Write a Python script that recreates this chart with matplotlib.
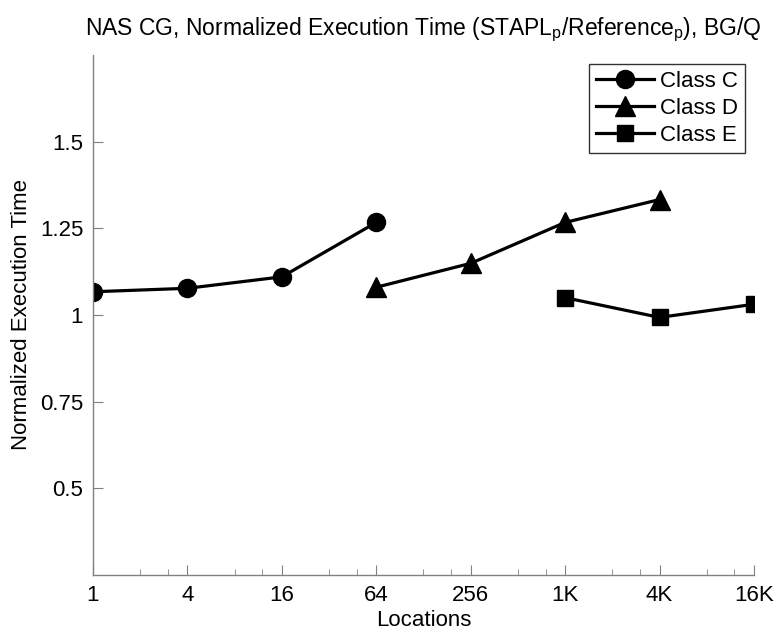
import numpy as np
import matplotlib
matplotlib.use("Agg")
import matplotlib.pyplot as plt
from matplotlib.ticker import FixedLocator, NullFormatter

plt.rcParams["font.family"] = ["Liberation Sans", "DejaVu Sans"]
plt.rcParams["mathtext.fontset"] = "custom"
plt.rcParams["mathtext.rm"] = "Liberation Sans"

# locations (processor counts) and normalized times
loc_c = [1, 4, 16, 64]
time_c = [1.067, 1.077, 1.110, 1.267]
loc_d = [64, 256, 1024, 4096]
time_d = [1.080, 1.149, 1.267, 1.333]
loc_e = [1024, 4096, 16384]
time_e = [1.050, 0.993, 1.031]

xticks = [1, 4, 16, 64, 256, 1024, 4096, 16384]
xlabels = ["1", "4", "16", "64", "256", "1K", "4K", "16K"]
yticks = [0.5, 0.75, 1, 1.25, 1.5]
ylabels = ["0.5", "0.75", "1", "1.25", "1.5"]

fig = plt.figure(figsize=(7.76, 6.35), dpi=100)
ax = fig.add_axes([0.1198, 0.0945, 0.9716 - 0.1198, 0.9134 - 0.0945])

kw = dict(color="black", lw=2.3)
ax.plot(loc_c, time_c, marker="o", ms=13, label="Class C", **kw)
ax.plot(loc_d, time_d, marker="^", ms=15, label="Class D", **kw)
ax.plot(loc_e, time_e, marker="s", ms=11, label="Class E", **kw)

ax.set_xscale("log", base=2)
ax.set_xlim(1, 16384)
ax.set_ylim(0.25, 1.75)
ax.xaxis.set_major_locator(FixedLocator(xticks))
ax.set_xticklabels(xlabels)
minor = [m * t for t in xticks[:-1] for m in (2, 3)]
ax.xaxis.set_minor_locator(FixedLocator(minor))
ax.xaxis.set_minor_formatter(NullFormatter())
ax.set_yticks(yticks)
ax.set_yticklabels(ylabels)

for s in ("top", "right"):
    ax.spines[s].set_visible(False)
for s in ("left", "bottom"):
    ax.spines[s].set_color("#808080")
    ax.spines[s].set_linewidth(1.0)
ax.tick_params(which="both", direction="in", color="#808080", labelsize=16)
ax.tick_params(which="major", length=7)
ax.tick_params(axis="x", which="major", pad=7)
ax.tick_params(axis="y", which="major", pad=7)
ax.tick_params(which="minor", length=4)

ax.set_xlabel("Locations", fontsize=16, labelpad=3)
ax.set_ylabel("Normalized Execution Time", fontsize=16, labelpad=6)
ax.set_title(r"NAS CG, Normalized Execution Time (STAPL$_\mathrm{p}$/Reference$_\mathrm{p}$), BG/Q",
             fontsize=16.5, pad=14)

leg = ax.legend(loc="upper right", fontsize=16, fancybox=False, frameon=True,
                borderaxespad=0.4, handlelength=2.6, handletextpad=0.3,
                labelspacing=0.28, borderpad=0.3)
leg.get_frame().set_edgecolor("black")
leg.get_frame().set_linewidth(1.0)

fig.savefig("out.png", dpi=100)
